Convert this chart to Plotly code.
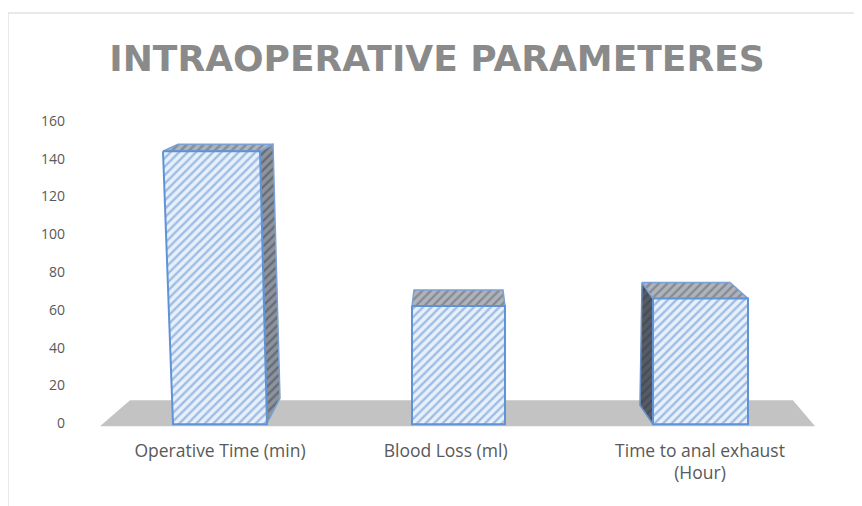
import plotly.graph_objects as go

# Data
categories = ["Operative Time (min)", "Blood Loss (ml)", "Time to anal exhaust<br>(Hour)"]
values = [144, 62, 66]
y_ticks = [0, 20, 40, 60, 80, 100, 120, 140, 160]

# The page adds an 8 px body margin, so the figure is 8 px smaller on each leading edge
W, H = 854, 498
L, R, T, B = 92, 42, 113, 79
Y_MIN, Y_MAX = -2, 160
X_MIN, X_MAX = -0.5, 2.5
PX_X = (W - L - R) / (X_MAX - X_MIN)
PX_Y = (H - T - B) / (Y_MAX - Y_MIN)


def poly(pts):
    """pts: (category index, dx px, value, dy px up)."""
    xs = [i + dx / PX_X for i, dx, v, dy in pts]
    ys = [v + dy / PX_Y for i, dx, v, dy in pts]
    return xs + xs[:1], ys + ys[:1]


def face(pts, bg, fg, line, shape="/", size=6, solidity=0.4, width=2):
    x, y = poly(pts)
    return go.Scatter(
        x=x, y=y, mode="lines", fill="toself", fillcolor=bg,
        fillpattern=dict(shape=shape, bgcolor=bg, fgcolor=fg, size=size, solidity=solidity, fillmode="replace"),
        line=dict(color=line, width=width), hoverinfo="skip", showlegend=False,
    )


BLUE = "#5f93d6"
FRONT = dict(bg="#e8f0f9", fg="#9dbde6", line=BLUE)
TOP = dict(bg="#b0b4ba", fg="#858b95", line="#7ba1d4", size=6, solidity=0.4, width=1.5)
SIDE = dict(bg="#8e949e", fg="#656c77", line="#7ba1d4", size=6, solidity=0.4, width=1.5)
DARK = dict(bg="#565c66", fg="#474d57", line="#6a8fc4", size=6, solidity=0.4, width=1.5)

fig = go.Figure()

# Floor
fx, fy = poly([(0, -120, 0, -3), (2, 115, 0, -3), (2, 93, 0, 23), (0, -90, 0, 23)])
fig.add_trace(go.Scatter(x=fx, y=fy, mode="lines", fill="toself", fillcolor="#c3c3c3",
                         line=dict(width=0, color="#c3c3c3"), hoverinfo="skip", showlegend=False))

# Bar 1: side face on the right
v = values[0]
fig.add_trace(face([(0, 40, v, 0), (0, 53, v, 7), (0, 60, 0, 25), (0, 47, 0, 0)], **SIDE))
fig.add_trace(face([(0, -57, v, 0), (0, -42, v, 7), (0, 53, v, 7), (0, 40, v, 0)], **TOP))
fig.add_trace(face([(0, -57, v, 0), (0, 40, v, 0), (0, 47, 0, -1), (0, -47, 0, -1)], **FRONT))

# Bar 2: seen straight on
v = values[1]
fig.add_trace(face([(1, -48, v, 0), (1, -46, v, 16), (1, 43, v, 16), (1, 45, v, 0)], **TOP))
fig.add_trace(face([(1, -48, v, 0), (1, 45, v, 0), (1, 45, 0, -1), (1, -48, 0, -1)], **FRONT))

# Bar 3: side face on the left
v = values[2]
fig.add_trace(face([(2, -58, v, 16), (2, -47, v, 0), (2, -47, 0, -1), (2, -60, 0, 18)], **DARK))
fig.add_trace(face([(2, -58, v, 16), (2, 30, v, 16), (2, 48, v, 0), (2, -47, v, 0)], **TOP))
fig.add_trace(face([(2, -47, v, 0), (2, 48, v, 0), (2, 48, 0, -1), (2, -47, 0, -1)], **FRONT))

PW, PH = W - L - R, H - T - B
fig.update_layout(
    width=W, height=H,
    margin=dict(l=L, r=R, t=T, b=B),
    paper_bgcolor="white", plot_bgcolor="white",
    showlegend=False,
    title=dict(text="INTRAOPERATIVE PARAMETERES", x=429 / W, xanchor="center",
               y=1 - 50 / H, yanchor="middle",
               font=dict(family="DejaVu Sans", size=36, color="#8a8a8a", weight="bold")),
    xaxis=dict(range=[X_MIN, X_MAX], tickmode="array", tickvals=[0, 0.94, 2], ticktext=categories,
               showgrid=False, zeroline=False, showline=False, ticks="",
               ticklabelstandoff=11, tickfont=dict(family="Open Sans", size=17.5, color="#595959")),
    yaxis=dict(range=[Y_MIN, Y_MAX], tickmode="array", tickvals=y_ticks,
               showgrid=False, zeroline=False, showline=False, ticks="",
               ticklabelstandoff=34, tickfont=dict(family="Open Sans", size=14, color="#595959")),
    shapes=[
        dict(type="line", xref="paper", yref="paper", x0=-L / PW, x1=1 + R / PW,
             y0=1 + (T - 5) / PH, y1=1 + (T - 5) / PH, line=dict(color="#e2e2e2", width=1.5)),
        dict(type="line", xref="paper", yref="paper", x0=-L / PW, x1=-L / PW,
             y0=-B / PH, y1=1 + (T - 5) / PH, line=dict(color="#e2e2e2", width=1.5)),
    ],
)

fig.write_html("out.html")
